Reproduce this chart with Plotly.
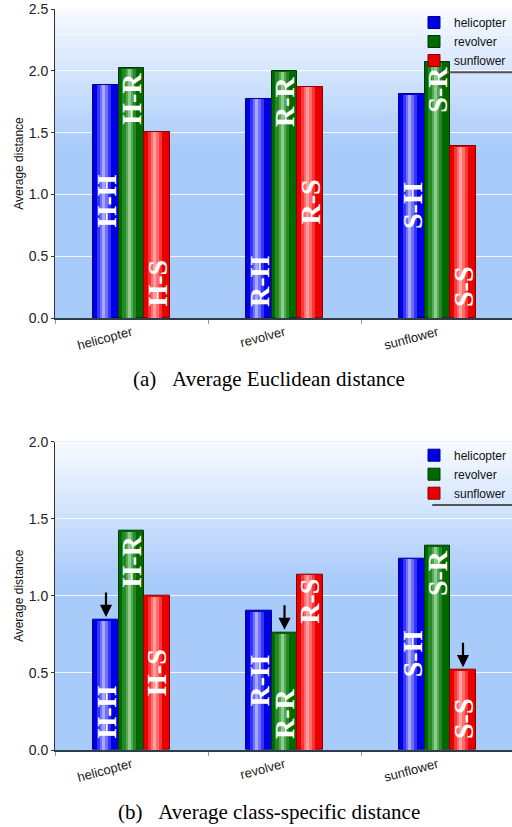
import plotly.graph_objects as go

# ---------------- data ----------------
categories = ["helicopter", "revolver", "sunflower"]
series_names = ["helicopter", "revolver", "sunflower"]

# (a) Average Euclidean distance
euclid_helicopter = [1.887, 1.774, 1.812]
euclid_revolver = [2.020, 1.998, 2.070]
euclid_sunflower = [1.505, 1.869, 1.389]

# (b) Average class-specific distance
class_helicopter = [0.844, 0.903, 1.242]
class_revolver = [1.421, 0.760, 1.326]
class_sunflower = [1.000, 1.140, 0.518]

label_helicopter = ["H-H", "R-H", "S-H"]
label_revolver = ["H-R", "R-R", "S-R"]
label_sunflower = ["H-S", "R-S", "S-S"]

y_ticks_a = [0.0, 0.5, 1.0, 1.5, 2.0, 2.5]
y_ticks_b = [0.0, 0.5, 1.0, 1.5, 2.0]

caption_a = "(a)\u00a0\u00a0\u00a0Average Euclidean distance"
caption_b = "(b)\u00a0\u00a0\u00a0Average class-specific distance"
y_title = "Average distance"

# ---------------- styling ----------------
SANS = "Liberation Sans, Arial, sans-serif"
SERIF = "Liberation Serif, Times New Roman, serif"

base_colors = ["#0000e2", "#006a00", "#e80000"]
edge_colors = ["#000090", "#003800", "#8a0000"]
stripe_colors = [
    ["#3434ff", "#7070ff", "#a8a8ff"],
    ["#258a25", "#55a855", "#8ccc8c"],
    ["#ff3434", "#ff6c6c", "#ffa0a0"],
]
stripe_widths = [0.55, 0.30, 0.12]   # fraction of bar width
stripe_center = 0.42                 # fraction of bar width from left

BAR_W = 0.1667
offsets = [-0.25, -0.0833, 0.0833]

# label anchoring inside bar: 'start' (bottom), 'middle', 'end' (top)
anchors_a = [["middle", "start", "middle"], ["end", "end", "end"], ["start", "middle", "start"]]
anchors_b = [["start", "middle", "middle"], ["end", "start", "end"], ["middle", "end", "start"]]
# bars pointed to by an arrow in (b): (series index, category index)
arrows_b = [(0, 0), (1, 1), (2, 2)]

W, H = 512, 827
M_L, M_R, M_T, M_B = 55, 0, 9, 77
plot_h = H - M_T - M_B
plot_w = W - M_L - M_R


def frac(py):
    return min(1.0, max(0.0, (H - M_B - py) / plot_h))


def pfrac(py):
    return (H - M_B - py) / plot_h


dom_a = [frac(318), frac(9)]
dom_b = [frac(750), frac(441.7)]

fig = go.Figure()

datasets = [
    ([euclid_helicopter, euclid_revolver, euclid_sunflower], "x", "y", anchors_a, "legend"),
    ([class_helicopter, class_revolver, class_sunflower], "x2", "y2", anchors_b, "legend2"),
]
labels = [label_helicopter, label_revolver, label_sunflower]

annotations = []
shapes = []

for vals_list, xa, ya, anchors, leg in datasets:
    for si, vals in enumerate(vals_list):
        # base bar
        fig.add_trace(go.Bar(
            x=categories, y=vals, name=series_names[si],
            xaxis=xa, yaxis=ya, width=BAR_W, offset=offsets[si],
            marker=dict(color=base_colors[si], line=dict(color=edge_colors[si], width=1)),
            showlegend=True, legend=leg,
        ))
        # highlight stripes (cylinder shading)
        for k, sw in enumerate(stripe_widths):
            w = BAR_W * sw
            off = offsets[si] + BAR_W * stripe_center - w / 2
            fig.add_trace(go.Bar(
                x=categories, y=[v - 0.004 for v in vals], xaxis=xa, yaxis=ya,
                width=w, offset=off,
                marker=dict(color=stripe_colors[si][k], line=dict(width=0)),
                showlegend=False, hoverinfo="skip",
            ))
        # in-bar labels
        for ci, v in enumerate(vals):
            xc = ci + offsets[si] + BAR_W / 2
            a = anchors[si][ci]
            if a == "end":
                y, yanc, ysh = v, "top", -3
            elif a == "middle":
                y, yanc, ysh = v / 2, "middle", 0
            else:
                y, yanc, ysh = 0, "bottom", 9
            annotations.append(dict(
                x=xc, y=y, xref=xa, yref=ya, text="<b>%s</b>" % labels[si][ci], showarrow=False,
                textangle=-90, yanchor=yanc, xanchor="center", yshift=ysh,
                font=dict(family=SERIF, size=28, color="white"),
            ))

# arrows in (b)
vals_b = [class_helicopter, class_revolver, class_sunflower]
for si, ci in arrows_b:
    xc = ci + offsets[si] + BAR_W / 2
    annotations.append(dict(
        x=xc, y=vals_b[si][ci], xref="x2", yref="y2", text="", showarrow=True,
        ax=0, ay=-29, arrowhead=2, arrowsize=1.1, arrowwidth=2.2,
        arrowcolor="black", standoff=3,
    ))

# captions
annotations.append(dict(x=(269 - M_L) / plot_w, y=pfrac(378.7), xref="paper", yref="paper",
                        text=caption_a, showarrow=False, xanchor="center", yanchor="middle",
                        font=dict(family=SERIF, size=21, color="black")))
annotations.append(dict(x=(268.5 - M_L) / plot_w, y=pfrac(811.7), xref="paper", yref="paper",
                        text=caption_b, showarrow=False, xanchor="center", yanchor="middle",
                        font=dict(family=SERIF, size=21, color="black")))

# background gradient bands for each plot area
top_col = (248, 251, 255)
bot_col = (169, 203, 250)
N = 40
g0, g1 = 0.55, 1.0
for xr, yr in (("x domain", "y domain"), ("x2 domain", "y2 domain")):
    for i in range(N):
        y0 = g0 + (g1 - g0) * i / N
        y1 = g0 + (g1 - g0) * (i + 1) / N
        t = (i + 0.5) / N
        c = tuple(int(round(bot_col[j] + (top_col[j] - bot_col[j]) * t)) for j in range(3))
        shapes.append(dict(type="rect", xref=xr, yref=yr, x0=0, x1=1, y0=y0, y1=min(1.0, y1 + 0.002),
                           fillcolor="rgb(%d,%d,%d)" % c, line=dict(width=0), layer="below"))
    # legend shadow & edge
    shapes.append(dict(type="line", xref=xr, yref=yr, x0=(432 - M_L) / plot_w, x1=1,
                       y0=0.795, y1=0.795, line=dict(color="#555555", width=2), layer="above"))
    shapes.append(dict(type="line", xref=xr, yref=yr, x0=(432 - M_L) / plot_w, x1=(432 - M_L) / plot_w,
                       y0=0.795, y1=0.985, line=dict(color="rgba(255,255,255,0.7)", width=1),
                       layer="above"))

axis_common_x = dict(
    type="category", range=[-0.5, -0.5 + plot_w / 153.0], showgrid=False, showline=True,
    linecolor="#2e3b4a", linewidth=2, ticks="outside", ticklen=4, tickcolor="#999999",
    tickson="boundaries", tickangle=-15, tickfont=dict(family=SANS, size=13, color="#222"),
    automargin=False, zeroline=False,
)
axis_common_y = dict(
    showgrid=True, gridcolor="rgba(255,255,255,0.85)", gridwidth=1, showline=True,
    linecolor="#333333", linewidth=1, ticks="outside", ticklen=3, tickcolor="#333",
    tickformat=".1f", tickfont=dict(family=SANS, size=14, color="#222"),
    automargin=False, zeroline=False,
    title=dict(text=y_title, font=dict(family=SANS, size=12, color="#111"), standoff=2),
)

fig.update_layout(
    template="none",
    width=W, height=H,
    margin=dict(l=M_L, r=M_R, t=M_T, b=M_B, autoexpand=False),
    paper_bgcolor="white", plot_bgcolor="rgb(169,203,250)",
    barmode="overlay", bargap=0,
    xaxis=dict(axis_common_x, domain=[0, 1], anchor="y"),
    yaxis=dict(axis_common_y, domain=dom_a, range=[0, 2.5], tickvals=y_ticks_a, anchor="x"),
    xaxis2=dict(axis_common_x, domain=[0, 1], anchor="y2"),
    yaxis2=dict(axis_common_y, domain=dom_b, range=[0, 2.0], tickvals=y_ticks_b, anchor="x2"),
    legend=dict(x=(414 - M_L) / plot_w, y=dom_a[1] + 1 / plot_h, xanchor="left", yanchor="top",
                bgcolor="rgba(255,255,255,0)", borderwidth=0,
                font=dict(family=SANS, size=12, color="#111"), tracegroupgap=0),
    legend2=dict(x=(414 - M_L) / plot_w, y=dom_b[1] + 1 / plot_h, xanchor="left", yanchor="top",
                 bgcolor="rgba(255,255,255,0)", borderwidth=0,
                 font=dict(family=SANS, size=12, color="#111"), tracegroupgap=0),
    annotations=annotations,
    shapes=shapes,
    showlegend=True,
)

fig.write_html("out.html", config={"displayModeBar": False},
               post_script="document.body.style.margin='0px';")
